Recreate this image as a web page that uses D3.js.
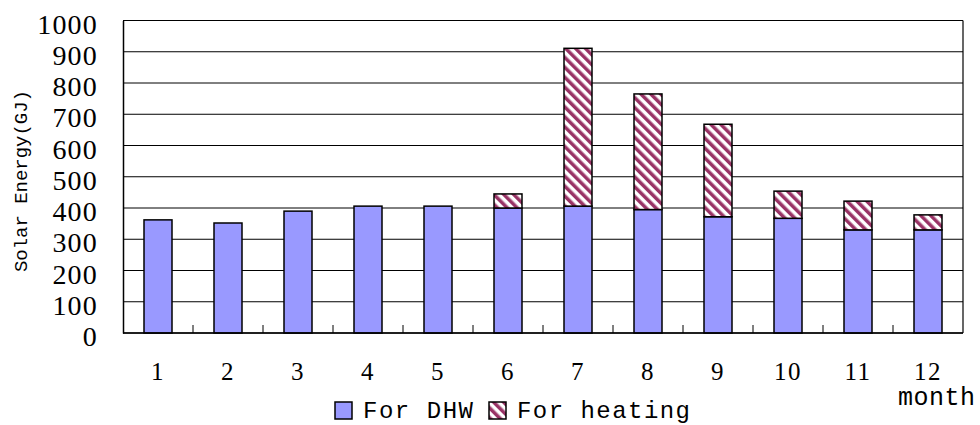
<!DOCTYPE html>
<html>
<head>
<meta charset="utf-8">
<script src="https://cdn.jsdelivr.net/npm/d3@7"></script>
<style>
  html, body { margin: 0; padding: 0; background: #fff; }
  svg { display: block; }
</style>
</head>
<body>
<div id="chart"></div>
<script>
const months = ["1","2","3","4","5","6","7","8","9","10","11","12"];
const dhw     = [362, 352, 390, 406, 406, 400, 406, 395, 372, 367, 330, 330];
const heating = [0, 0, 0, 0, 0, 45, 505, 370, 296, 87, 92, 48];
const yTicks = [0,100,200,300,400,500,600,700,800,900,1000];
const seriesNames = ["For DHW", "For heating"];

const FONT = "'Liberation Serif', 'Times New Roman', Times, 'DejaVu Serif', serif";
const MONO = "'Liberation Mono', 'DejaVu Sans Mono', monospace";
const W = 980, H = 425;
const svg = d3.select("#chart").append("svg").attr("width", W).attr("height", H)
  .style("font-family", FONT);

const defs = svg.append("defs");
const pat = defs.append("pattern")
  .attr("id", "hatch").attr("patternUnits", "userSpaceOnUse")
  .attr("width", 7).attr("height", 7)
  .attr("patternTransform", "rotate(-45)");
pat.append("rect").attr("width", 7).attr("height", 7).attr("fill", "#fff");
pat.append("rect").attr("width", 3.5).attr("height", 7).attr("fill", "#993366");

const x = d3.scaleBand().domain(months).range([123, 963]).paddingInner(0.6).paddingOuter(0.3);
const y = d3.scaleLinear().domain([0, 1000]).range([333, 20.5]);

// gridlines
svg.append("g").selectAll("line").data(yTicks).join("line")
  .attr("x1", 123).attr("x2", 963)
  .attr("y1", d => y(d)).attr("y2", d => y(d))
  .attr("stroke", "#000").attr("stroke-width", 1);

// right border
svg.append("line").attr("x1", 963).attr("x2", 963).attr("y1", y(1000)).attr("y2", y(0))
  .attr("stroke", "#000").attr("stroke-width", 1.2);

// y axis
const yAxis = d3.axisLeft(y).tickValues(yTicks).tickSize(0).tickPadding(0).tickFormat(d3.format("d"));
const yg = svg.append("g").attr("transform", "translate(123,0)").call(yAxis);
yg.attr("font-family", null);
yg.select(".domain").attr("stroke", "#000").attr("stroke-width", 1.5);
yg.selectAll("text").attr("x", -25).attr("dy", "0.45em")
  .style("font-family", FONT).style("fill", "#000")
  .style("font-size", "28px").style("letter-spacing", "1.2px").attr("text-anchor", "end");

// bars
const stackData = months.map((m, i) => ({ m, dhw: dhw[i], heat: heating[i] }));
svg.append("g").selectAll("rect").data(stackData).join("rect")
  .attr("x", d => x(d.m)).attr("width", x.bandwidth())
  .attr("y", d => y(d.dhw)).attr("height", d => y(0) - y(d.dhw))
  .attr("fill", "#9999ff").attr("stroke", "#000").attr("stroke-width", 1.5);
svg.append("g").selectAll("rect").data(stackData.filter(d => d.heat > 0)).join("rect")
  .attr("x", d => x(d.m)).attr("width", x.bandwidth())
  .attr("y", d => y(d.dhw + d.heat)).attr("height", d => y(d.dhw) - y(d.dhw + d.heat))
  .attr("fill", "url(#hatch)").attr("stroke", "#000").attr("stroke-width", 1.5);

// x axis
const step = x.step();
svg.append("line").attr("x1", 123).attr("x2", 963).attr("y1", y(0)).attr("y2", y(0))
  .attr("stroke", "#000").attr("stroke-width", 1.5);
svg.append("g").selectAll("line").data(months.slice(1)).join("line")
  .attr("x1", d => x(d) - x.paddingOuter() * step).attr("x2", d => x(d) - x.paddingOuter() * step)
  .attr("y1", y(0)).attr("y2", y(0) - 8)
  .attr("stroke", "#000").attr("stroke-width", 1);
svg.append("g").selectAll("text").data(months).join("text")
  .attr("x", d => x(d) + x.bandwidth() / 2).attr("y", 380)
  .attr("text-anchor", "middle").style("font-family", FONT)
  .style("font-size", "25px").style("letter-spacing", "1.5px")
  .text(d => d);

// axis titles
svg.append("text").attr("transform", "translate(27,181) rotate(-90)")
  .attr("text-anchor", "middle").style("font-family", MONO).style("font-size", "19px")
  .attr("textLength", 182).attr("lengthAdjust", "spacing")
  .text("Solar Energy(GJ)");
svg.append("text").attr("x", 898).attr("y", 405)
  .style("font-family", MONO).style("font-size", "25px")
  .attr("textLength", 77).attr("lengthAdjust", "spacing")
  .text("month");

// legend
const legend = [
  { name: seriesNames[0], fill: "#9999ff", sx: 335, tx: 363, tl: 110 },
  { name: seriesNames[1], fill: "url(#hatch)", sx: 489, tx: 517, tl: 173 }
];
const lg = svg.append("g");
lg.selectAll("rect").data(legend).join("rect")
  .attr("x", d => d.sx).attr("y", 402).attr("width", 17).attr("height", 17)
  .attr("fill", d => d.fill).attr("stroke", "#000").attr("stroke-width", 1.5);
lg.selectAll("text").data(legend).join("text")
  .attr("x", d => d.tx).attr("y", 418)
  .style("font-family", MONO).style("font-size", "24px")
  .attr("textLength", d => d.tl).attr("lengthAdjust", "spacing")
  .text(d => d.name);
</script>
</body>
</html>
